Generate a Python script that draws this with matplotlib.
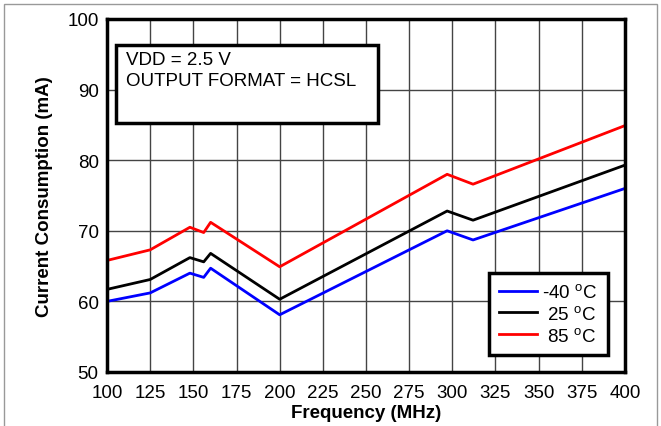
import matplotlib.pyplot as plt
from matplotlib.patches import Rectangle

plt.rcParams['font.family'] = ['Liberation Sans', 'DejaVu Sans']
plt.rcParams['mathtext.default'] = 'regular'

# Data
freq = [100, 125, 148, 156, 160, 200, 297, 312, 400]
current_m40 = [60.0, 61.2, 64.0, 63.4, 64.7, 58.1, 70.0, 68.7, 76.0]
current_25 = [61.7, 63.1, 66.2, 65.6, 66.8, 60.3, 72.8, 71.5, 79.3]
current_85 = [65.8, 67.3, 70.5, 69.75, 71.2, 64.9, 78.0, 76.6, 84.9]

x_ticks = list(range(100, 401, 25))
y_ticks = list(range(50, 101, 10))
labels = ['-40 $^{o}$C', ' 25 $^{o}$C', ' 85 $^{o}$C']

fig = plt.figure(figsize=(6.61, 4.27), dpi=100)
ax = fig.add_axes([0.1619, 0.1265, 0.7836, 0.8267])

ax.plot(freq, current_m40, color='#0000ff', lw=2, label=labels[0])
ax.plot(freq, current_25, color='black', lw=2, label=labels[1])
ax.plot(freq, current_85, color='#ff0000', lw=2, label=labels[2])

ax.set_xlim(100, 400)
ax.set_ylim(50, 100)
ax.set_xticks(x_ticks)
ax.set_yticks(y_ticks)
ax.grid(True, color='#444444', lw=1)
ax.set_axisbelow(True)
ax.tick_params(length=0, labelsize=13.5)
ax.tick_params(axis='x', pad=9)
ax.tick_params(axis='y', pad=6)
for s in ax.spines.values():
    s.set_linewidth(2.5)

ax.set_xlabel('Frequency (MHz)', fontsize=13.5, fontweight='bold', labelpad=2)
ax.set_ylabel('Current Consumption (mA)', fontsize=13.5, fontweight='bold', labelpad=10)

# Condition box
ax.add_patch(Rectangle((105.2, 85.3), 151.7, 11.0, fill=True, fc='white', ec='black',
                       lw=2.5, zorder=4))
ax.text(111, 95.5, 'VDD = 2.5 V\nOUTPUT FORMAT = HCSL', fontsize=13.5, va='top',
        ha='left', linespacing=1.35, zorder=5)

leg = ax.legend(loc='lower right', bbox_to_anchor=(0.967, 0.048), fontsize=13.5,
                fancybox=False, framealpha=1, edgecolor='black', handlelength=2.0,
                handletextpad=0.3, borderpad=0.55, labelspacing=0.2, borderaxespad=0)
leg.get_frame().set_linewidth(2.5)

# outer frame of the figure
fig.patches.append(Rectangle((0.006, -0.01), 0.988, 0.998, transform=fig.transFigure,
                             fill=False, ec='#999999', lw=1))

fig.savefig('out.png', dpi=100)
